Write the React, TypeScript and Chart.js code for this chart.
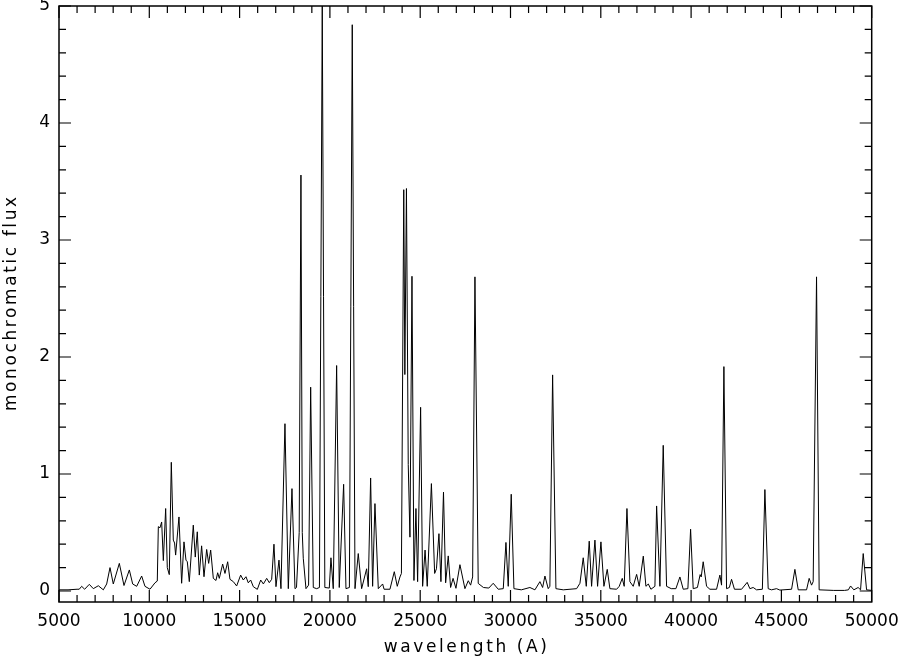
import React, { useEffect, useRef } from "react";
import { Chart, registerables } from "chart.js";

Chart.register(...registerables);

// Traced spectrum: wavelength (Angstrom) and monochromatic flux
const wavelength = [
  5000, 5500, 6000, 6120, 6256, 6420, 6678, 6900, 7177, 7454, 7640, 7824, 8006, 8340, 8599, 8895,
  9080, 9301, 9577, 9761, 10038, 10315, 10442, 10500, 10590, 10685, 10777, 10906, 10996, 11107,
  11218, 11329, 11400, 11458, 11643, 11790, 11920, 12031, 12104, 12215, 12436, 12546, 12657, 12768,
  12897, 13028, 13176, 13287, 13398, 13545, 13692, 13785, 13876, 14062, 14190, 14340, 14467, 14652,
  14837, 15058, 15205, 15353, 15480, 15613, 15760, 15982, 16168, 16316, 16500, 16644, 16776, 16903,
  17014, 17180, 17290, 17512, 17697, 17900, 18066, 18150, 18300, 18397, 18470, 18526, 18675, 18820,
  18935, 19080, 19267, 19420, 19577, 19720, 19966, 20058, 20186, 20373, 20518, 20760, 20889, 21080,
  21238, 21390, 21570, 21757, 22034, 22124, 22255, 22365, 22494, 22679, 22920, 23000, 23325, 23565,
  23730, 23879, 23960, 24090, 24150, 24238, 24338, 24432, 24545, 24654, 24764, 24857, 25023, 25134,
  25270, 25390, 25620, 25800, 25900, 26038, 26148, 26290, 26408, 26553, 26683, 26820, 26979, 27200,
  27477, 27662, 27792, 27903, 28031, 28213, 28500, 28800, 29043, 29321, 29600, 29748, 29875, 30040,
  30190, 30600, 31075, 31352, 31629, 31778, 31906, 32088, 32180, 32332, 32515, 32920, 33661, 33845,
  34027, 34196, 34359, 34490, 34675, 34822, 35007, 35172, 35357, 35504, 35876, 36020, 36188, 36296,
  36448, 36612, 36795, 36984, 37127, 37353, 37498, 37630, 37775, 37996, 38091, 38273, 38457, 38642,
  38900, 39158, 39380, 39564, 39822, 39972, 40116, 40350, 40500, 40560, 40670, 40857, 41041, 41410,
  41594, 41686, 41816, 41963, 42120, 42240, 42400, 42795, 43105, 43254, 43438, 43623, 43946, 44085,
  44268, 44453, 44730, 44915, 45564, 45747, 45932, 46393, 46537, 46670, 46760, 46946, 47090, 47900,
  48500, 48710, 48830, 49012, 49250, 49383, 49530, 49716, 50000,
];

const flux = [
  0.01, 0.01, 0.015, 0.015, 0.04, 0.015, 0.057, 0.02, 0.045, 0.01, 0.06, 0.2, 0.06, 0.236, 0.047, 0.18,
  0.06, 0.04, 0.128, 0.04, 0.015, 0.07, 0.085, 0.55, 0.54, 0.59, 0.26, 0.705, 0.2, 0.14,
  1.1, 0.435, 0.41, 0.307, 0.633, 0.066, 0.42, 0.264, 0.25, 0.08, 0.563, 0.29, 0.506, 0.136,
  0.386, 0.122, 0.355, 0.236, 0.35, 0.108, 0.09, 0.156, 0.108, 0.23, 0.15, 0.25, 0.1, 0.08,
  0.043, 0.136, 0.094, 0.122, 0.07, 0.094, 0.037, 0.014, 0.094, 0.06, 0.108, 0.071, 0.1, 0.4,
  0.037, 0.264, 0.02, 1.43, 0.02, 0.875, 0.02, 0.03, 0.5, 3.555, 0.5, 0.28, 0.02, 0.05,
  1.742, 0.03, 0.02, 0.03, 5.0, 0.03, 0.025, 0.284, 0.02, 1.927, 0.03, 0.912, 0.02, 0.03,
  4.84, 0.02, 0.32, 0.02, 0.19, 0.037, 0.966, 0.04, 0.747, 0.02, 0.06, 0.015, 0.015, 0.165,
  0.04, 0.12, 0.15, 3.43, 1.85, 3.44, 1.08, 0.46, 2.69, 0.09, 0.705, 0.08, 1.57, 0.04,
  0.35, 0.04, 0.918, 0.15, 0.19, 0.49, 0.08, 0.845, 0.07, 0.3, 0.03, 0.108, 0.023, 0.225,
  0.02, 0.088, 0.05, 0.12, 2.685, 0.065, 0.03, 0.025, 0.066, 0.015, 0.02, 0.415, 0.04, 0.827,
  0.02, 0.01, 0.03, 0.01, 0.08, 0.03, 0.128, 0.02, 0.04, 1.847, 0.02, 0.01, 0.02, 0.066,
  0.284, 0.04, 0.426, 0.04, 0.435, 0.04, 0.42, 0.04, 0.185, 0.02, 0.015, 0.04, 0.108, 0.04,
  0.705, 0.08, 0.04, 0.142, 0.04, 0.298, 0.04, 0.06, 0.015, 0.04, 0.727, 0.04, 1.245, 0.04,
  0.02, 0.02, 0.12, 0.015, 0.02, 0.528, 0.02, 0.03, 0.14, 0.12, 0.25, 0.04, 0.015, 0.015,
  0.136, 0.05, 1.918, 0.02, 0.03, 0.1, 0.015, 0.015, 0.074, 0.02, 0.03, 0.01, 0.015, 0.867,
  0.02, 0.01, 0.02, 0.008, 0.015, 0.185, 0.01, 0.01, 0.108, 0.05, 0.08, 2.685, 0.01, 0.005,
  0.005, 0.01, 0.043, 0.01, 0.03, 0.01, 0.32, 0.01, 0.005,
];

const xTickValues = [5000, 10000, 15000, 20000, 25000, 30000, 35000, 40000, 45000, 50000];
const yTickValues = [0, 1, 2, 3, 4, 5];
const xTitle = "wavelength (A)";
const yTitle = "monochromatic flux";

const X_MIN = 5000;
const X_MAX = 50000;
const Y_MIN = -0.094;
const Y_MAX = 5;

const FONT = { family: "DejaVu Sans", size: 17 };

const framePlugin = {
  id: "pgframe",
  afterDatasetsDraw(chart: any) {
    const { ctx, chartArea: a, scales } = chart;
    const x = scales.x;
    const y = scales.y;
    ctx.save();
    ctx.strokeStyle = "#000";
    ctx.lineWidth = 1.2;
    ctx.beginPath();
    const MAJ = 12;
    const MIN = 7;
    for (let v = X_MIN; v <= X_MAX; v += 1000) {
      const px = x.getPixelForValue(v);
      const len = v % 5000 === 0 ? MAJ : MIN;
      ctx.moveTo(px, a.bottom);
      ctx.lineTo(px, a.bottom - len);
      ctx.moveTo(px, a.top);
      ctx.lineTo(px, a.top + len);
    }
    for (let i = 0; i <= 25; i++) {
      const v = i * 0.2;
      const py = y.getPixelForValue(v);
      const len = i % 5 === 0 ? MAJ : MIN;
      ctx.moveTo(a.left, py);
      ctx.lineTo(a.left + len, py);
      ctx.moveTo(a.right, py);
      ctx.lineTo(a.right - len, py);
    }
    ctx.stroke();
    ctx.lineWidth = 1.5;
    ctx.strokeRect(a.left, a.top, a.right - a.left, a.bottom - a.top);
    ctx.restore();
  },
  afterDraw(chart: any) {
    const { ctx, chartArea: a } = chart;
    ctx.save();
    ctx.fillStyle = "#000";
    ctx.font = `${FONT.size}px "${FONT.family}"`;
    (ctx as any).letterSpacing = "2.6px";
    ctx.textAlign = "center";
    ctx.textBaseline = "alphabetic";
    ctx.fillText(xTitle, (a.left + a.right) / 2 + 1.3, 652);
    ctx.translate(16, (a.top + a.bottom) / 2);
    ctx.rotate(-Math.PI / 2);
    ctx.fillText(yTitle, 1.3, 0);
    ctx.restore();
  },
};

export default function App() {
  const ref = useRef<HTMLCanvasElement | null>(null);

  useEffect(() => {
    if (!ref.current) return;
    const points = wavelength.map((w, i) => ({ x: w, y: flux[i] }));
    const chart = new Chart(ref.current, {
      type: "line",
      data: {
        datasets: [
          {
            data: points,
            borderColor: "#000",
            borderWidth: 1,
            pointRadius: 0,
            tension: 0,
            borderJoinStyle: "bevel",
            fill: false,
          },
        ],
      },
      options: {
        animation: false,
        responsive: false,
        devicePixelRatio: 1,
        layout: { padding: { left: 0, right: 28.3, top: 6, bottom: 0 } },
        plugins: {
          legend: { display: false },
          tooltip: { enabled: false },
        },
        scales: {
          x: {
            type: "linear",
            min: X_MIN,
            max: X_MAX,
            grid: { display: false, drawTicks: false },
            border: { display: false },
            afterBuildTicks: (scale: any) => {
              scale.ticks = xTickValues.map((v) => ({ value: v }));
            },
            afterFit: (scale: any) => {
              scale.height = 57;
              scale.paddingLeft = 0;
              scale.paddingRight = 0;
            },
            ticks: {
              font: FONT,
              color: "#000",
              padding: 9,
              maxRotation: 0,
              autoSkip: false,
              callback: (v: any) => String(v),
            },
          },
          y: {
            type: "linear",
            min: Y_MIN,
            max: Y_MAX,
            grid: { display: false, drawTicks: false },
            border: { display: false },
            afterBuildTicks: (scale: any) => {
              scale.ticks = yTickValues.map((v) => ({ value: v }));
            },
            afterFit: (scale: any) => {
              scale.width = 59;
              scale.paddingTop = 0;
              scale.paddingBottom = 0;
            },
            ticks: {
              font: FONT,
              color: "#000",
              padding: 9,
              autoSkip: false,
              callback: (v: any) => String(v),
            },
          },
        },
      },
      plugins: [framePlugin],
    });
    return () => chart.destroy();
  }, []);

  return (
    <div style={{ position: "absolute", left: 0, top: 0, width: 900, height: 659, background: "#fff" }}>
      <canvas ref={ref} width={900} height={659} />
    </div>
  );
}
